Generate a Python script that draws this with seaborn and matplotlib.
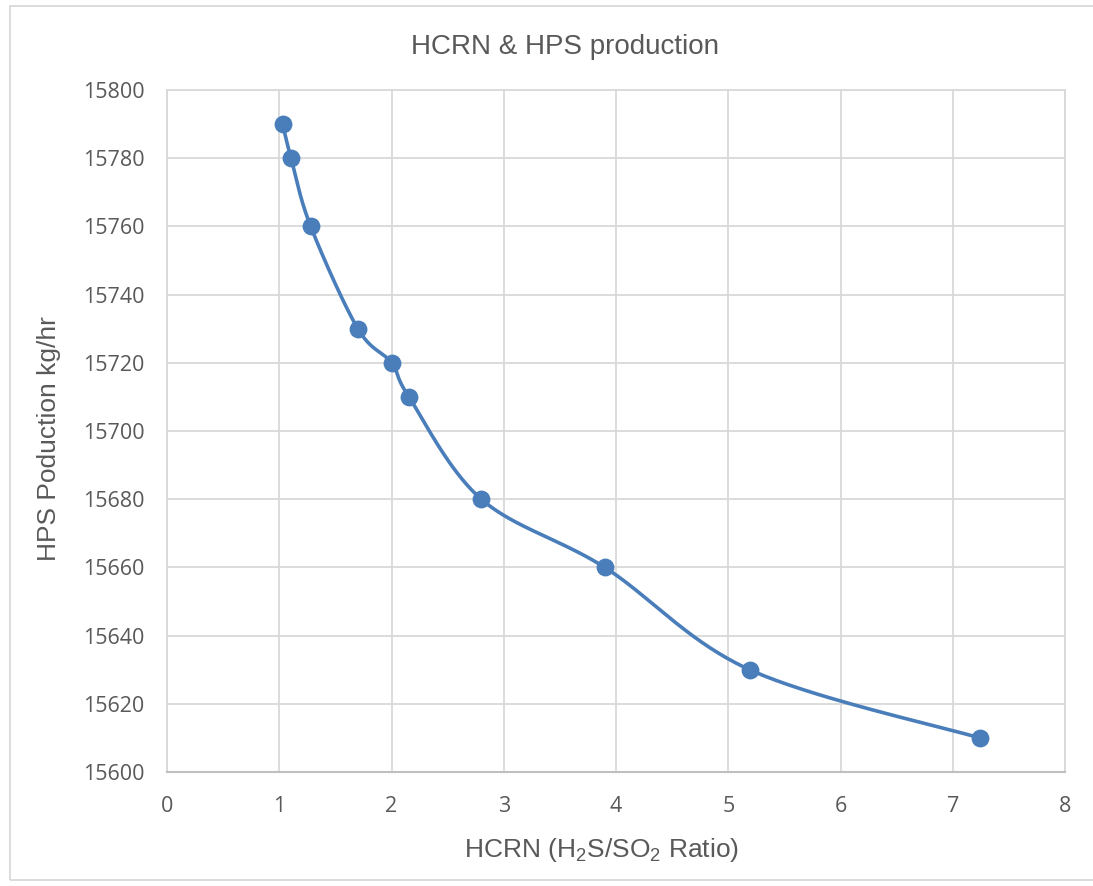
import numpy as np
import pandas as pd
import matplotlib
matplotlib.use("Agg")
import matplotlib.pyplot as plt
import seaborn as sns
from matplotlib.patches import Rectangle

# --- Datos ---
hcrn = [1.03, 1.105, 1.28, 1.70, 2.0, 2.155, 2.80, 3.90, 5.19, 7.24]
hps = [15790, 15780, 15760, 15730, 15720, 15710, 15680, 15660, 15630, 15610]

x_ticks = [0, 1, 2, 3, 4, 5, 6, 7, 8]
y_ticks = [15600, 15620, 15640, 15660, 15680, 15700, 15720, 15740, 15760, 15780, 15800]

df = pd.DataFrame({"HCRN": hcrn, "HPS": hps})

# --- Curva suavizada tipo Excel (Bezier con tangentes de Catmull-Rom) ---
sx, sy = 898 / 8, 682 / 200   # escala aproximada en píxeles
px = np.array(hcrn) * sx
py = (np.array(hps) - 15600) * sy
pts = np.column_stack([px, py])
curve = []
n = len(pts)
for i in range(n - 1):
    p0 = pts[max(i - 1, 0)]
    p1 = pts[i]
    p2 = pts[i + 1]
    p3 = pts[min(i + 2, n - 1)]
    c1 = p1 + (p2 - p0) / 6
    c2 = p2 - (p3 - p1) / 6
    t = np.linspace(0, 1, 40)[:, None]
    seg = (1 - t) ** 3 * p1 + 3 * (1 - t) ** 2 * t * c1 + 3 * (1 - t) * t ** 2 * c2 + t ** 3 * p2
    curve.append(seg if i == 0 else seg[1:])
curve = np.vstack(curve)
df_curve = pd.DataFrame({"HCRN": curve[:, 0] / sx, "HPS": curve[:, 1] / sy + 15600})

sns.set_style("white")
plt.rcParams["font.family"] = ["Liberation Sans", "DejaVu Sans"]
plt.rcParams["mathtext.default"] = "regular"

color = "#4a7ebb"
gris = "#595959"

fig = plt.figure(figsize=(10.93, 8.86), dpi=100)
ax = fig.add_axes([167 / 1093, 1 - 772 / 886, 898 / 1093, 682 / 886])

sns.lineplot(data=df_curve, x="HCRN", y="HPS", ax=ax, color=color, lw=2.6,
             sort=False, estimator=None, zorder=3)
sns.scatterplot(data=df, x="HCRN", y="HPS", ax=ax, color=color, s=165,
                edgecolor=color, linewidth=0, zorder=4)

ax.set_xlim(0, 8)
ax.set_ylim(15600, 15800)
ax.set_xticks(x_ticks)
ax.set_yticks(y_ticks)
ax.grid(True, color="#d9d9d9", lw=1.3)
ax.set_axisbelow(True)
for s in ["top", "right", "left"]:
    ax.spines[s].set_color("#d9d9d9")
    ax.spines[s].set_linewidth(1.3)
ax.spines["bottom"].set_color("#bfbfbf")
ax.spines["bottom"].set_linewidth(1.5)

ax.tick_params(axis="both", length=0, labelcolor=gris)
ax.tick_params(axis="y", pad=16)
ax.tick_params(axis="x", pad=17)
for lab in ax.get_xticklabels() + ax.get_yticklabels():
    lab.set_family(["Open Sans", "DejaVu Sans"])
    lab.set_fontsize(15.5)

ax.set_title("HCRN & HPS production", fontsize=20, color=gris, pad=26,
             x=(565 - 167) / 898)
ax.set_xlabel("HCRN (H$_2$S/SO$_2$ Ratio)", fontsize=19, color=gris, labelpad=14)
ax.xaxis.label.set_x((601 - 167) / 898)
ax.set_ylabel("HPS Poduction kg/hr", fontsize=19, color=gris, labelpad=16)
ax.yaxis.label.set_y((772 - 439) / 682)

# --- Borde del área del gráfico ---
fig.patches.append(Rectangle((10 / 1093, 6 / 886), 1.2, 874 / 886, transform=fig.transFigure,
                             fill=False, edgecolor="#d9d9d9", lw=1.3))

fig.savefig("out.png", dpi=100, facecolor="white")
